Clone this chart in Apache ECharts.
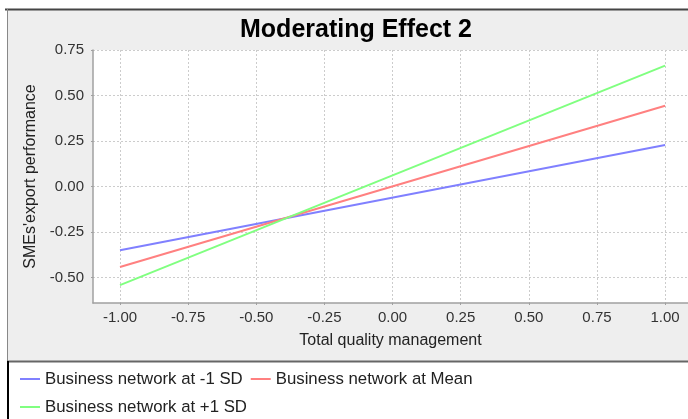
<!DOCTYPE html>
<html>
<head>
<meta charset="utf-8">
<script src="https://cdn.jsdelivr.net/npm/echarts@6/dist/echarts.min.js"></script>
<style>
html,body{margin:0;padding:0;background:#fff;}
#chart{width:688px;height:419px;}
</style>
</head>
<body>
<div id="chart"></div>
<script>
const titleText = 'Moderating Effect 2';
const xName = 'Total quality management';
const yName = "SMEs'export performance";
const xValues = [-1, 1];
const seriesNames = ['Business network at -1 SD', 'Business network at Mean', 'Business network at +1 SD'];
const lowSD = [-0.349, 0.229];
const meanSD = [-0.441, 0.445];
const highSD = [-0.541, 0.665];
const xTicks = [-1, -0.75, -0.5, -0.25, 0, 0.25, 0.5, 0.75, 1];
const yTicks = [-0.5, -0.25, 0, 0.25, 0.5, 0.75];
const colors = ['#8080ff', '#ff8080', '#80ff80'];

const seriesValues = [lowSD, meanSD, highSD];
const chart = echarts.init(document.getElementById('chart'), null, {renderer: 'canvas'});
const font = 'Liberation Sans, Arial, sans-serif';
const axisCommon = {
  type: 'value',
  axisLine: {show: true, onZero: false, lineStyle: {color: '#a0a0a0', width: 1.5}},
  splitLine: {show: true, lineStyle: {color: '#cccccc', type: [2, 2], width: 1}},
  nameLocation: 'middle',
  nameTextStyle: {fontFamily: font, fontSize: 16, color: '#222'}
};
chart.setOption({
  animation: false,
  backgroundColor: '#ffffff',
  graphic: [
    {type: 'rect', z: -10, shape: {x: 7, y: 9, width: 690, height: 352}, style: {fill: '#eeeeee'}},
    {type: 'line', z: 10, shape: {x1: 5, y1: 9.5, x2: 700, y2: 9.5}, style: {stroke: '#444', lineWidth: 2}},
    {type: 'line', z: 10, shape: {x1: 7.5, y1: 9, x2: 7.5, y2: 361}, style: {stroke: '#888', lineWidth: 1}},
    {type: 'line', z: 10, shape: {x1: 7, y1: 361.5, x2: 700, y2: 361.5}, style: {stroke: '#666', lineWidth: 2}},
    {type: 'line', z: 10, shape: {x1: 8, y1: 361, x2: 8, y2: 419}, style: {stroke: '#000', lineWidth: 2}}
  ],
  title: {
    text: titleText, left: 356, top: 18, textAlign: 'center', padding: 0,
    textStyle: {fontFamily: font, fontSize: 25, fontWeight: 'bold', color: '#000'}
  },
  grid: {left: 93, top: 50, right: 0, bottom: 116, show: true, backgroundColor: '#ffffff', borderWidth: 0, containLabel: false},
  xAxis: Object.assign({}, axisCommon, {
    min: -1.099, max: 1.084,
    name: xName, nameGap: 30,
    axisTick: {show: true, length: 2, lineStyle: {color: '#a0a0a0'}, customValues: xTicks},
    axisLabel: {customValues: xTicks, margin: 7, fontFamily: font, fontSize: 15, color: '#333',
      formatter: v => Number(v).toFixed(2)}
  }),
  yAxis: Object.assign({}, axisCommon, {
    min: -0.639, max: 0.751,
    name: yName, nameGap: 47,
    axisTick: {show: true, length: 2, lineStyle: {color: '#a0a0a0'}, customValues: yTicks},
    axisLabel: {customValues: yTicks, margin: 9, fontFamily: font, fontSize: 15, color: '#333',
      formatter: v => Number(v).toFixed(2)}
  }),
  legend: {
    left: 15, top: 364, width: 640, orient: 'horizontal',
    icon: 'rect', itemWidth: 20, itemHeight: 2, itemGap: 8,
    textStyle: {fontFamily: font, fontSize: 16.8, color: '#222', lineHeight: 20},
    data: seriesNames
  },
  series: seriesNames.map((n, i) => ({
    name: n, type: 'line', symbol: 'none', showSymbol: false,
    data: xValues.map((x, j) => [x, seriesValues[i][j]]),
    lineStyle: {color: colors[i], width: 2}, itemStyle: {color: colors[i]}
  }))
});
</script>
</body>
</html>
